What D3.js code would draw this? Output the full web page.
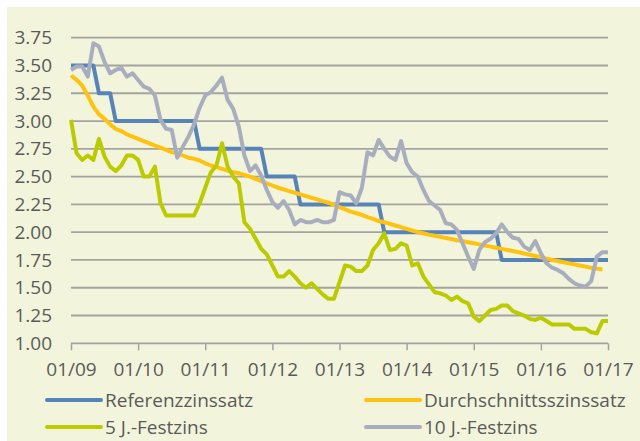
<!DOCTYPE html>
<html><head><meta charset="utf-8">
<script src="https://cdn.jsdelivr.net/npm/d3@7"></script>
<style>html,body{margin:0;padding:0;background:#fff;}svg{display:block;}</style>
</head><body>
<svg id="chart" width="640" height="441"></svg>
<script>
const xLabels = ["01/09","01/10","01/11","01/12","01/13","01/14","01/15","01/16","01/17"];
const yTicks = [1.00,1.25,1.50,1.75,2.00,2.25,2.50,2.75,3.00,3.25,3.50,3.75];
const seriesNames = ["Referenzzinssatz","Durchschnittsszinssatz","5 J.-Festzins","10 J.-Festzins"];

// monthly values, Jan 2009 .. Jan 2017 (index 0..96)
const referenz = [3.5,3.5,3.5,3.5,3.5,3.25,3.25,3.25,3.0,3.0,3.0,3.0,3.0,3.0,3.0,3.0,3.0,3.0,3.0,3.0,3.0,3.0,3.0,
  2.75,2.75,2.75,2.75,2.75,2.75,2.75,2.75,2.75,2.75,2.75,2.75,
  2.5,2.5,2.5,2.5,2.5,2.5,
  2.25,2.25,2.25,2.25,2.25,2.25,2.25,2.25,2.25,2.25,2.25,2.25,2.25,2.25,2.25,
  2.0,2.0,2.0,2.0,2.0,2.0,2.0,2.0,2.0,2.0,2.0,2.0,2.0,2.0,2.0,2.0,2.0,2.0,2.0,2.0,2.0,
  1.75,1.75,1.75,1.75,1.75,1.75,1.75,1.75,1.75,1.75,1.75,1.75,1.75,1.75,1.75,1.75,1.75,1.75,1.75,1.75];
const durchschnitt = [3.41,3.37,3.32,3.23,3.13,3.06,3.02,2.97,2.93,2.91,2.88,2.86,2.84,2.82,2.80,2.78,2.76,2.74,2.72,2.71,2.69,2.67,2.66,2.645,
  2.62,2.60,2.585,2.57,2.555,2.54,2.53,2.515,2.50,2.48,2.46,2.44,2.42,2.40,2.385,2.37,2.355,2.34,2.325,2.31,2.295,2.28,2.265,2.245,
  2.225,2.205,2.185,2.17,2.155,2.135,2.12,2.10,2.09,2.075,2.06,2.045,2.03,2.015,2.00,1.99,1.978,1.968,1.958,1.948,1.938,1.928,1.92,1.91,
  1.90,1.89,1.88,1.87,1.86,1.85,1.84,1.83,1.82,1.808,1.797,1.786,1.775,1.762,1.75,1.74,1.73,1.72,1.71,1.70,1.69,1.68,1.672,1.665,null];
const festzins5 = [3.01,2.71,2.65,2.69,2.65,2.84,2.68,2.59,2.55,2.60,2.69,2.69,2.65,2.50,2.50,2.59,2.26,2.15,2.15,2.15,2.15,2.15,2.15,2.26,
  2.40,2.54,2.60,2.80,2.59,2.50,2.44,2.09,2.03,1.94,1.85,1.80,1.70,1.60,1.60,1.65,1.60,1.54,1.50,1.54,1.49,1.44,1.40,1.40,
  1.55,1.70,1.69,1.65,1.65,1.70,1.84,1.90,1.99,1.84,1.85,1.90,1.88,1.70,1.72,1.60,1.53,1.46,1.45,1.43,1.39,1.42,1.38,1.36,
  1.24,1.20,1.25,1.30,1.31,1.34,1.34,1.29,1.27,1.25,1.22,1.21,1.23,1.20,1.17,1.17,1.17,1.17,1.13,1.13,1.13,1.10,1.09,1.20,1.20];
const festzins10 = [3.46,3.49,3.49,3.40,3.70,3.67,3.53,3.43,3.46,3.48,3.40,3.43,3.37,3.31,3.29,3.23,3.01,2.93,2.92,2.67,2.77,2.86,2.97,3.12,
  3.23,3.26,3.32,3.39,3.19,3.11,2.95,2.69,2.55,2.60,2.51,2.38,2.27,2.22,2.28,2.20,2.07,2.11,2.09,2.09,2.11,2.09,2.09,2.11,
  2.36,2.34,2.33,2.26,2.40,2.72,2.69,2.83,2.75,2.68,2.65,2.82,2.62,2.54,2.50,2.38,2.28,2.24,2.20,2.08,2.07,2.02,1.90,1.78,
  1.67,1.84,1.91,1.94,1.99,2.07,2.00,1.95,1.94,1.87,1.84,1.92,1.81,1.72,1.68,1.66,1.63,1.58,1.54,1.52,1.51,1.56,1.78,1.82,1.82];

const colors = ["#5683B8","#FFC20E","#BCCB00","#A9AEBF"];
const seriesData = [referenz, durchschnitt, festzins5, festzins10];

const svg = d3.select("#chart");
const font = "'Open Sans', 'Noto Sans', sans-serif";
const textColor = "#5a5a5a";
const gridColor = "#a3a3a0";

svg.append("rect").attr("x",7).attr("y",7).attr("width",633).attr("height",434).attr("fill","#F2F5DC");

const x = d3.scaleLinear().domain([0,96]).range([71,608]);
const y = d3.scaleLinear().domain([1,3.75]).range([343.3,37.7]);

// gridlines
svg.append("g").selectAll("line").data(yTicks).join("line")
  .attr("x1",x(0)).attr("x2",x(96))
  .attr("y1",d=>y(d)).attr("y2",d=>y(d))
  .attr("stroke",gridColor).attr("stroke-width",1.8);

// y labels
svg.append("g").selectAll("text").data(yTicks).join("text")
  .attr("x",52).attr("y",d=>y(d)).attr("dy","0.35em")
  .attr("text-anchor","end").attr("font-family",font).attr("font-size",19).attr("fill",textColor)
  .text(d=>d.toFixed(2));

// x axis
const xAxis = d3.axisBottom(x).tickValues(d3.range(0,97,12)).tickSize(7)
  .tickFormat((d,i)=>xLabels[i]);
const gx = svg.append("g").attr("transform",`translate(0,${y(1)})`).call(xAxis);
gx.select(".domain").remove();
gx.selectAll(".tick line").attr("stroke",gridColor).attr("stroke-width",1.5);
gx.selectAll(".tick text").attr("font-family",font).attr("font-size",19).attr("fill",textColor)
  .attr("y",0).attr("dy","33px");

// lines
const line = d3.line().defined(d=>d!=null).x((d,i)=>x(i)).y(d=>y(d));
seriesData.forEach((s,k)=>{
  svg.append("path").datum(s).attr("d",line).attr("fill","none")
    .attr("stroke",colors[k]).attr("stroke-width",4).attr("stroke-linejoin","round");
});

// legend
const legPos = [[47,400],[366,400],[47,427],[366,427]];
seriesNames.forEach((n,k)=>{
  const [lx,ly] = legPos[k];
  svg.append("line").attr("x1",lx).attr("x2",lx+54).attr("y1",ly).attr("y2",ly)
    .attr("stroke",colors[k]).attr("stroke-width",4).attr("stroke-linecap","round");
  svg.append("text").attr("x",lx+58).attr("y",ly).attr("dy","0.35em")
    .attr("font-family",font).attr("font-size",19).attr("fill",textColor).text(n);
});
</script>
</body></html>
